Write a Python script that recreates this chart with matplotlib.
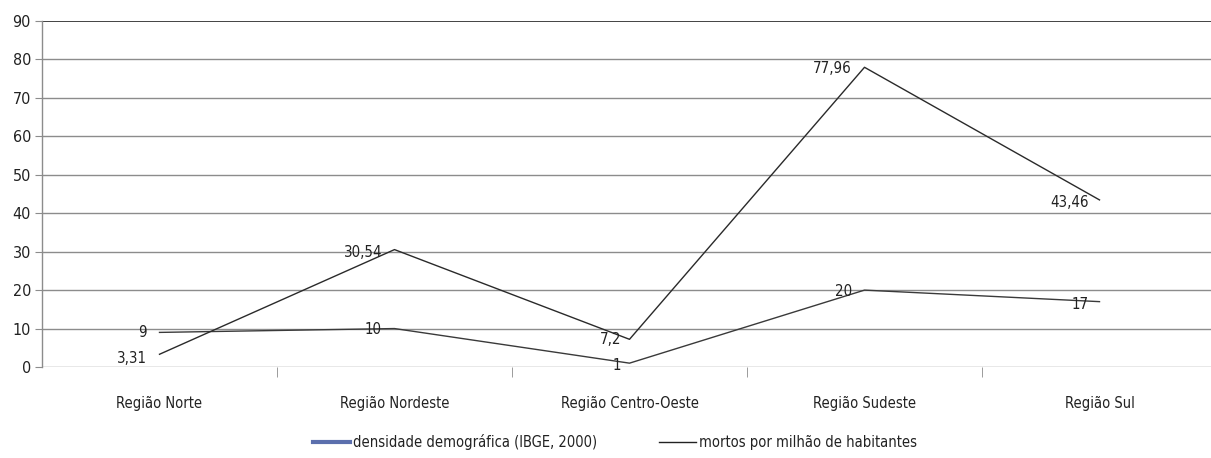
import matplotlib
matplotlib.use("Agg")
import matplotlib.pyplot as plt
from matplotlib.lines import Line2D

regioes = ["Região Norte", "Região Nordeste", "Região Centro-Oeste", "Região Sudeste", "Região Sul"]
densidade = [9, 10, 1, 20, 17]
mortos = [3.31, 30.54, 7.2, 77.96, 43.46]
rotulos_densidade = ["9", "10", "1", "20", "17"]
rotulos_mortos = ["3,31", "30,54", "7,2", "77,96", "43,46"]
nome_densidade = "densidade demográfica (IBGE, 2000)"
nome_mortos = "mortos por milhão de habitantes"

plt.rcParams["font.family"] = ["Liberation Sans Narrow", "DejaVu Sans"]
plt.rcParams["font.stretch"] = "condensed"

W, H = 1211, 458
fig = plt.figure(figsize=(W / 100, H / 100), dpi=100)
ax = fig.add_axes([42 / W, 1 - 367 / H, 1175 / W, (367 - 21) / H])

x = list(range(len(regioes)))
ax.set_xlim(-0.5, len(regioes) - 0.5)
ax.set_ylim(0, 90)

# horizontal gridlines
for v in range(10, 90, 10):
    ax.axhline(v, color="#8c8c8c", lw=1.0, zorder=1)
ax.axhline(90, color="#222222", lw=1.2, zorder=1)
ax.axhline(0, color="#8c8c8c", lw=1.0, zorder=1)

ax.plot(x, densidade, color="#3a3a3a", lw=1.0, zorder=3)
ax.plot(x, mortos, color="#2a2a2a", lw=1.0, zorder=3)

fs = 10.8
# value labels sit to the left of each point: (offset x pt, offset y pt)
pos_dens = [(-9, 0), (-9, -1), (-6, -2), (-9, -1), (-8, -2)]
pos_mort = [(-9, -3), (-9, -2), (-6, 0), (-9, -1), (-8, -2)]
for xi, yi, lab, (dx, dy) in zip(x, densidade, rotulos_densidade, pos_dens):
    ax.annotate(lab, (xi, yi), xytext=(dx, dy), textcoords="offset points",
                ha="right", va="center", fontsize=fs, color="#222222", zorder=4)
for xi, yi, lab, (dx, dy) in zip(x, mortos, rotulos_mortos, pos_mort):
    ax.annotate(lab, (xi, yi), xytext=(dx, dy), textcoords="offset points",
                ha="right", va="center", fontsize=fs, color="#222222", zorder=4)

ax.set_yticks(range(0, 91, 10))
ax.tick_params(axis="y", length=5, color="#8c8c8c", labelsize=11.5, labelcolor="#222222", pad=3)
ax.set_xticks(x)
ax.set_xticklabels(regioes)
ax.tick_params(axis="x", length=0, labelsize=10.5, labelcolor="#222222", pad=21)
ax.set_xticks([i + 0.5 for i in x[:-1]], minor=True)
ax.tick_params(axis="x", which="minor", length=7, color="#8c8c8c", direction="out")

for s in ["top", "right", "bottom"]:
    ax.spines[s].set_visible(False)
ax.spines["left"].set_color("#8c8c8c")
ax.spines["left"].set_linewidth(1.0)

handles = [Line2D([], [], color="#5b6fad", lw=3),
           Line2D([], [], color="#222222", lw=1.0)]
fig.legend(handles, [nome_densidade, nome_mortos], loc="center",
           bbox_to_anchor=(615 / W, 1 - 442 / H), ncol=2, frameon=False,
           fontsize=10.5, handlelength=2.5, handletextpad=0.2, columnspacing=4.3,
           labelcolor="#222222")

fig.savefig("out.png", dpi=100, facecolor="white")
